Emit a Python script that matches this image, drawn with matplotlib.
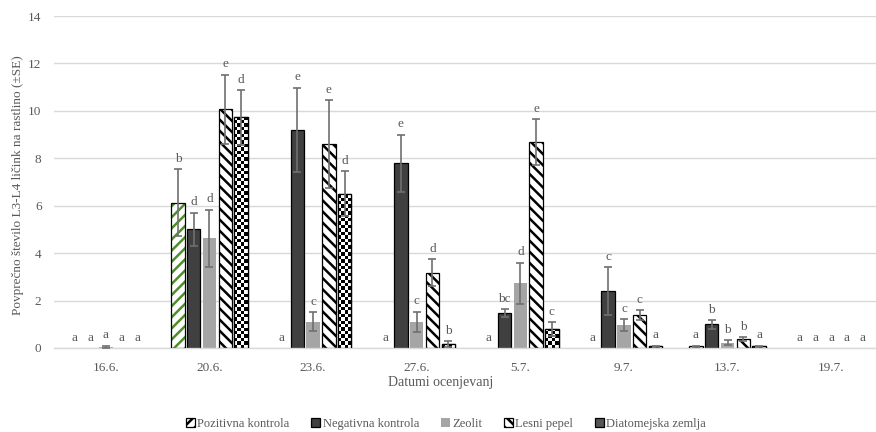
import numpy as np
import matplotlib
matplotlib.use('Agg')
import matplotlib.pyplot as plt
from matplotlib.patches import Patch

plt.rcParams['font.family'] = ['Liberation Serif', 'DejaVu Serif']
plt.rcParams['hatch.linewidth'] = 1.8

# Povprecno stevilo licink (+- SE) po datumih ocenjevanja
datumi = ['16.6.', '20.6.', '23.6.', '27.6.', '5.7.', '9.7.', '13.7.', '19.7.']
serije = ['Pozitivna kontrola', 'Negativna kontrola', 'Zeolit', 'Lesni pepel', 'Diatomejska zemlja']

pozitivna = [0, 6.13, 0, 0, 0, 0, 0.07, 0]
negativna = [0, 5.0, 9.19, 7.79, 1.46, 2.4, 1.0, 0]
zeolit = [0.04, 4.63, 1.1, 1.1, 2.73, 0.97, 0.22, 0]
lesni = [0, 10.07, 8.6, 3.18, 8.69, 1.39, 0.38, 0]
diatom = [0, 9.73, 6.5, 0.17, 0.79, 0.07, 0.07, 0]

se_pozitivna = [0, 1.4, 0, 0, 0, 0, 0.03, 0]
se_negativna = [0, 0.7, 1.78, 1.2, 0.17, 1.0, 0.18, 0]
se_zeolit = [0.05, 1.2, 0.4, 0.43, 0.87, 0.24, 0.1, 0]
se_lesni = [0, 1.45, 1.86, 0.56, 0.97, 0.2, 0.08, 0]
se_diatom = [0, 1.15, 0.95, 0.12, 0.3, 0.03, 0.03, 0]

crke_pozitivna = ['a', 'b', 'a', 'a', 'a', 'a', 'a', 'a']
crke_negativna = ['a', 'd', 'e', 'e', 'bc', 'c', 'b', 'a']
crke_zeolit = ['a', 'd', 'c', 'c', 'd', 'c', 'b', 'a']
crke_lesni = ['a', 'e', 'e', 'd', 'e', 'c', 'b', 'a']
crke_diatom = ['a', 'd', 'd', 'b', 'c', 'a', 'a', 'a']

vrednosti = [pozitivna, negativna, zeolit, lesni, diatom]
napake = [se_pozitivna, se_negativna, se_zeolit, se_lesni, se_diatom]
crke = [crke_pozitivna, crke_negativna, crke_zeolit, crke_lesni, crke_diatom]

grey_txt = '#595959'
grid_c = '#d9d9d9'
green = '#4f8f2b'
dark = '#404040'
light = '#a5a5a5'

fig = plt.figure(figsize=(8.76, 4.32), dpi=100)
ax = fig.add_axes([54 / 876, 84 / 432, 829 / 876, 332 / 432])

x = np.arange(len(datumi))
pitch = 0.1525
width = 0.13

for i, (vals, errs, lab) in enumerate(zip(vrednosti, napake, crke)):
    pos = x + (i - 2) * pitch
    vals = np.array(vals)
    lw = [0.9 if v > 0 else 0 for v in vals]
    if i == 0:
        # green hatch, black outline drawn on top
        ax.bar(pos, vals, width, facecolor='white', edgecolor=green, hatch='///', linewidth=0, zorder=2)
        ax.bar(pos, vals, width, facecolor='none', edgecolor='black', linewidth=lw, zorder=3)
    elif i == 1:
        ax.bar(pos, vals, width, color=dark, edgecolor='black', linewidth=lw, zorder=2)
    elif i == 2:
        ax.bar(pos, vals, width, color=light, linewidth=0, zorder=2)
    elif i == 3:
        ax.bar(pos, vals, width, facecolor='white', edgecolor='black', hatch='\\\\\\', linewidth=lw, zorder=2)
    else:
        bars = ax.bar(pos, vals, width, facecolor='white', edgecolor='black', linewidth=lw, zorder=2)
        # checkerboard fill clipped to each bar
        cw = width / 4
        ch = 3.4 / 23.71
        for b, v in zip(bars, vals):
            if v <= 0:
                continue
            rows = int(np.ceil(v / ch)) + 1
            cb = (np.add.outer(np.arange(rows), np.arange(4)) % 2).astype(float)
            x0 = b.get_x()
            im = ax.imshow(cb, cmap='gray', vmin=0, vmax=1, interpolation='nearest',
                           extent=[x0, x0 + width, 0, rows * ch], origin='lower',
                           aspect='auto', zorder=2.5)
            im.set_clip_path(b)
        ax.bar(pos, vals, width, facecolor='none', edgecolor='black', linewidth=lw, zorder=3)

    errs = np.array(errs)
    m = errs > 0
    ax.errorbar(pos[m], vals[m], yerr=errs[m], fmt='none', ecolor='#707070',
                elinewidth=1.2, capsize=3, capthick=1.2, zorder=4)
    for p, v, e, t in zip(pos, vals, errs, lab):
        ax.annotate(t, (p, v + e), xytext=(0, 7.5), textcoords='offset points',
                    ha='center', va='center', fontsize=9.5, color=grey_txt, zorder=5)

ax.set_xlim(-0.5, len(datumi) - 0.5)
ax.set_ylim(0, 14)
ax.set_yticks(np.arange(0, 15, 2))
ax.set_xticks(x)
ax.set_xticklabels(datumi)
ax.yaxis.grid(True, color=grid_c, linewidth=1)
ax.set_axisbelow(True)
for s in ['top', 'right', 'left']:
    ax.spines[s].set_visible(False)
ax.spines['bottom'].set_color(grid_c)
ax.spines['bottom'].set_linewidth(1)
ax.tick_params(axis='both', length=0, labelsize=9.5, colors=grey_txt)
ax.tick_params(axis='x', pad=10)
ax.tick_params(axis='y', pad=9)

ax.set_ylabel('Povprečno število L3-L4 ličink na rastlino (±SE)', fontsize=9.5, color=grey_txt)
ax.yaxis.set_label_coords(-0.036, 0.49)
ax.set_xlabel('Datumi ocenjevanj', fontsize=10, color=grey_txt)
ax.xaxis.set_label_coords(0.466, -0.105)
ax.xaxis.label.set_va('center')

handles = [
    Patch(facecolor='white', edgecolor='black', hatch='///', linewidth=0.9),
    Patch(facecolor=dark, edgecolor='black', linewidth=0.9),
    Patch(facecolor=light, edgecolor='none'),
    Patch(facecolor='white', edgecolor='black', hatch='\\\\\\', linewidth=0.9),
    Patch(facecolor='#555555', edgecolor='black', linewidth=0.9),
]
leg = fig.legend(handles, serije, loc='center', bbox_to_anchor=(446 / 876, 1 - 424 / 432),
                 ncol=5, frameon=False, fontsize=9, handlelength=0.7, handleheight=0.7,
                 handletextpad=0.2, columnspacing=1.75)
for t in leg.get_texts():
    t.set_color(grey_txt)

fig.savefig('out.png', dpi=100)
